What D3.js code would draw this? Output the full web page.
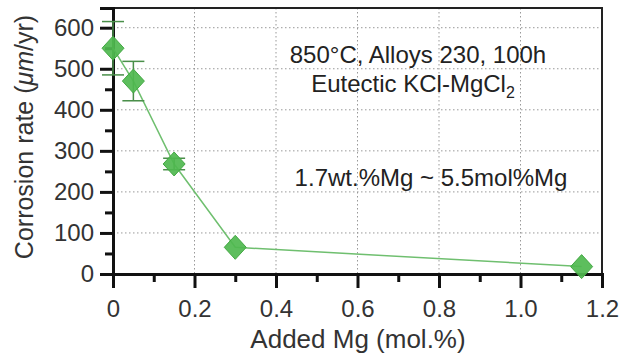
<!DOCTYPE html>
<html>
<head>
<meta charset="utf-8">
<script src="https://cdn.jsdelivr.net/npm/d3@7"></script>
<style>
  body { margin: 0; background: #fff; }
  svg { font-family: "Liberation Sans", Arial, sans-serif; }
</style>
</head>
<body>
<div id="chart"></div>
<script>
// data
var addedMg = [0, 0.05, 0.15, 0.3, 1.15];
var rate = [550, 470, 268, 65, 18];
var rateErr = [65, 48, 14, 0, 0];
var xTicks = [0, 0.2, 0.4, 0.6, 0.8, 1.0, 1.2];
var yTicks = [0, 100, 200, 300, 400, 500, 600];

var width = 621, height = 359;
var margin = {top: 8, right: 19, bottom: 85, left: 113};
var w = width - margin.left - margin.right,
    h = height - margin.top - margin.bottom;

var svg = d3.select("#chart")
  .append("svg")
    .attr("width", width)
    .attr("height", height);

var g = svg.append("g")
    .attr("transform", "translate(" + margin.left + "," + margin.top + ")");

var x = d3.scaleLinear().domain([0, 1.2]).range([0, w]);
var y = d3.scaleLinear().domain([0, 648]).range([h, 0]);

// dotted grid
g.append("g").selectAll("line")
  .data(yTicks.slice(1))
  .enter().append("line")
    .attr("x1", 0).attr("x2", w)
    .attr("y1", function(d) { return y(d); })
    .attr("y2", function(d) { return y(d); })
    .attr("stroke", "#999").attr("stroke-width", 1)
    .attr("stroke-dasharray", "1.5,2.5");

g.append("g").selectAll("line")
  .data(xTicks.slice(1, -1))
  .enter().append("line")
    .attr("y1", 0).attr("y2", h)
    .attr("x1", function(d) { return x(d); })
    .attr("x2", function(d) { return x(d); })
    .attr("stroke", "#999").attr("stroke-width", 1)
    .attr("stroke-dasharray", "1.5,2.5");

// frame
g.append("rect")
  .attr("width", w).attr("height", h)
  .attr("fill", "none").attr("stroke", "#222").attr("stroke-width", 2);

// axes
g.append("g")
  .attr("transform", "translate(0," + h + ")")
  .call(d3.axisBottom(x).tickValues(xTicks)
    .tickFormat(function(d) { return d === 0 ? "0" : d3.format(".1f")(d); })
    .tickSize(14).tickPadding(12));

g.append("g")
  .attr("transform", "translate(0," + h + ")")
  .call(d3.axisBottom(x).tickValues(d3.range(0.1, 1.2, 0.2)).tickFormat("").tickSize(8));

g.append("g")
  .call(d3.axisLeft(y).tickValues(yTicks).tickSize(13).tickPadding(6));

g.append("g")
  .call(d3.axisLeft(y).tickValues(d3.range(50, 650, 100)).tickFormat("").tickSize(8));

g.selectAll(".domain").attr("stroke", "#111").attr("stroke-width", 3);
g.selectAll(".tick line").attr("stroke", "#111").attr("stroke-width", 3);
g.selectAll(".tick text")
  .attr("font-size", 24).attr("fill", "#333")
  .attr("font-family", "Liberation Sans, Arial, sans-serif");

// connecting line
var pts = addedMg.map(function(d, i) { return {x: d, y: rate[i], e: rateErr[i]}; });

g.append("path")
  .datum(pts)
  .attr("fill", "none")
  .attr("stroke", "#6fbf6f")
  .attr("stroke-width", 1.5)
  .attr("d", d3.line().x(function(d) { return x(d.x); }).y(function(d) { return y(d.y); }));

// error bars
var eb = g.append("g").selectAll("g")
  .data(pts.filter(function(d) { return d.e > 0; }))
  .enter().append("g")
    .attr("stroke", "#4a8f4a").attr("stroke-width", 1.5);

eb.append("line")
  .attr("x1", function(d) { return x(d.x); })
  .attr("x2", function(d) { return x(d.x); })
  .attr("y1", function(d) { return y(d.y - d.e); })
  .attr("y2", function(d) { return y(d.y + d.e); });
eb.append("line")
  .attr("x1", function(d) { return x(d.x) - 11; })
  .attr("x2", function(d) { return x(d.x) + 11; })
  .attr("y1", function(d) { return y(d.y + d.e); })
  .attr("y2", function(d) { return y(d.y + d.e); });
eb.append("line")
  .attr("x1", function(d) { return x(d.x) - 11; })
  .attr("x2", function(d) { return x(d.x) + 11; })
  .attr("y1", function(d) { return y(d.y - d.e); })
  .attr("y2", function(d) { return y(d.y - d.e); });

// diamonds
g.append("g").selectAll("path")
  .data(pts)
  .enter().append("path")
    .attr("transform", function(d) { return "translate(" + x(d.x) + "," + y(d.y) + ")"; })
    .attr("d", "M0,-12L11,0L0,12L-11,0Z")
    .attr("fill", "#4fb84f")
    .attr("fill-opacity", 0.92)
    .attr("stroke", "#43a843")
    .attr("stroke-width", 1);

// annotations
var ann = g.append("g")
  .attr("font-size", 24).attr("fill", "#222").attr("text-anchor", "middle");

ann.append("text").attr("x", 305).attr("y", 55).text("850°C, Alloys 230, 100h");
var t2 = ann.append("text").attr("x", 300).attr("y", 84);
t2.append("tspan").text("Eutectic KCl-MgCl");
t2.append("tspan").attr("font-size", 16).attr("dy", 6).text("2");
ann.append("text").attr("x", 318).attr("y", 178).text("1.7wt.%Mg ~ 5.5mol%Mg");

// axis labels
svg.append("text")
  .attr("x", 358).attr("y", 348)
  .attr("text-anchor", "middle").attr("font-size", 26).attr("fill", "#333")
  .text("Added Mg (mol.%)");

var yl = svg.append("text")
  .attr("transform", "translate(33,137) rotate(-90)")
  .attr("text-anchor", "middle").attr("font-size", 25).attr("fill", "#333");
yl.append("tspan").text("Corrosion rate (");
yl.append("tspan").attr("font-style", "italic").text("μm");
yl.append("tspan").text("/yr)");
</script>
</body>
</html>
